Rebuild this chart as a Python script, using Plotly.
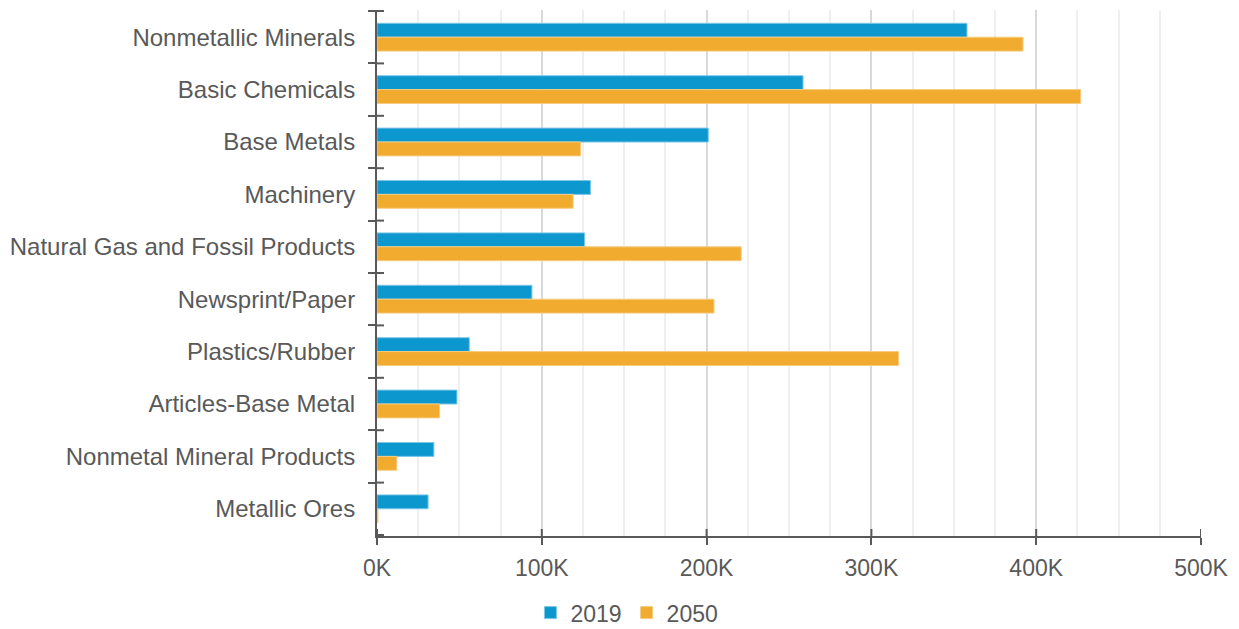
import plotly.graph_objects as go

# Commodity groups, top to bottom
categories = [
    "Nonmetallic Minerals",
    "Basic Chemicals",
    "Base Metals",
    "Machinery",
    "Natural Gas and Fossil Products",
    "Newsprint/Paper",
    "Plastics/Rubber",
    "Articles-Base Metal",
    "Nonmetal Mineral Products",
    "Metallic Ores",
]

values_2019 = [358000, 258500, 201000, 129500, 126000, 94000, 56000, 48500, 34500, 31000]
values_2050 = [392000, 427000, 123500, 119000, 221000, 204500, 316500, 38000, 12000, 600]

x_tickvals = [0, 100000, 200000, 300000, 400000, 500000]
x_ticktext = ["0K", "100K", "200K", "300K", "400K", "500K"]

BLUE = "#0d97cf"
ORANGE = "#f1ab2f"
AXIS = "#595959"
TEXT = "#595959"
FONT = "Liberation Sans, Arial, sans-serif"

fig = go.Figure()
fig.add_trace(go.Bar(
    y=categories, x=values_2019, name="2019", orientation="h",
    marker=dict(color=BLUE, line=dict(color="#7cc6e6", width=1)),
))
fig.add_trace(go.Bar(
    y=categories, x=values_2050, name="2050", orientation="h",
    marker=dict(color=ORANGE, line=dict(color="#f6cc80", width=1)),
))

# Tick marks cross the axis lines: the outside half comes from the axis,
# the inside half is drawn as short line shapes.
TICK = 7
shapes = []
for i in range(len(categories) + 1):
    shapes.append(dict(
        type="line", xref="x domain", yref="y",
        x0=0, x1=TICK / 826, y0=i - 0.5, y1=i - 0.5,
        line=dict(color=AXIS, width=2), layer="above",
    ))
for v in x_tickvals:
    shapes.append(dict(
        type="line", xref="x", yref="y domain",
        x0=v, x1=v, y0=0, y1=TICK / 526,
        line=dict(color=AXIS, width=2), layer="above",
    ))

fig.update_layout(
    width=1239, height=629,
    margin=dict(l=376, r=37, t=10, b=93),
    paper_bgcolor="white", plot_bgcolor="white",
    font=dict(family=FONT, color=TEXT, size=23),
    barmode="group", bargap=0.47, bargroupgap=0,
    showlegend=True,
    legend=dict(
        orientation="h", xref="container", x=0.506, xanchor="center",
        yref="container", y=0.026, yanchor="middle",
        font=dict(size=23, color=TEXT), traceorder="normal",
        itemwidth=30, tracegroupgap=0,
    ),
    shapes=shapes,
)

fig.update_yaxes(
    type="category", categoryorder="array", categoryarray=categories,
    autorange="reversed",
    showline=True, linecolor=AXIS, linewidth=2,
    ticks="outside", tickson="boundaries", ticklen=TICK, tickwidth=2, tickcolor=AXIS,
    ticklabelstandoff=15,
    tickfont=dict(size=24, color=TEXT),
    showgrid=False, zeroline=False,
)

fig.update_xaxes(
    range=[0, 500000],
    tickvals=x_tickvals, ticktext=x_ticktext,
    showline=True, linecolor=AXIS, linewidth=2,
    ticks="outside", ticklen=TICK, tickwidth=2, tickcolor=AXIS,
    ticklabelstandoff=3,
    tickfont=dict(size=23, color=TEXT),
    showgrid=True, gridcolor="#d9d9d9", gridwidth=2,
    minor=dict(dtick=25000, showgrid=True, gridcolor="#efefef", gridwidth=2, ticks=""),
    zeroline=False,
)

fig.write_html("out.html")
